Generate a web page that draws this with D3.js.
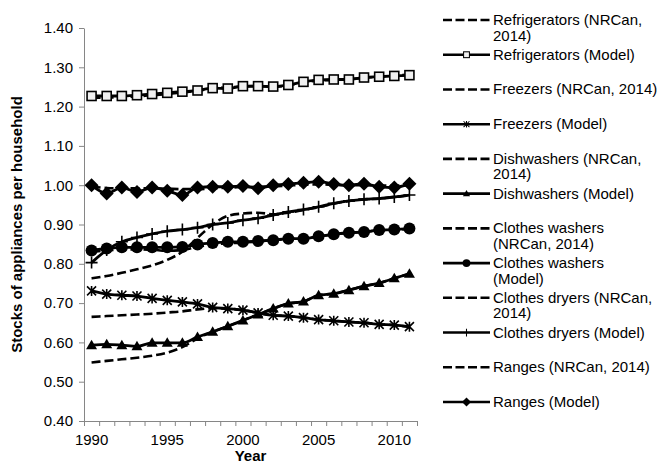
<!DOCTYPE html>
<html>
<head>
<meta charset="utf-8">
<script src="https://cdn.jsdelivr.net/npm/d3@7"></script>
<style>
  html, body { margin: 0; padding: 0; background: #fff; }
  svg { display: block; }
</style>
</head>
<body>
<svg id="chart" width="661" height="466"></svg>
<script>
// Appliance stocks per household, 1990-2011
const years = d3.range(1990, 2012);
const yTicks = [0.40, 0.50, 0.60, 0.70, 0.80, 0.90, 1.00, 1.10, 1.20, 1.30, 1.40];
const xLabelYears = [1990, 1995, 2000, 2005, 2010];

const refrigeratorsNRCan = [1.222, 1.223, 1.224, 1.226, 1.229, 1.232, 1.236, 1.240, 1.246, 1.249, 1.251, 1.252, 1.250, 1.254, 1.262, 1.266, 1.268, 1.270, 1.273, 1.276, 1.279, 1.281];
const refrigeratorsModel = [1.227, 1.227, 1.227, 1.229, 1.232, 1.235, 1.238, 1.241, 1.247, 1.246, 1.252, 1.252, 1.251, 1.255, 1.263, 1.268, 1.269, 1.269, 1.274, 1.276, 1.278, 1.280];
const freezersNRCan = [0.665, 0.667, 0.669, 0.671, 0.673, 0.676, 0.679, 0.684, 0.687, 0.686, 0.682, 0.675, 0.669, 0.667, 0.663, 0.658, 0.655, 0.652, 0.650, 0.646, 0.644, 0.639];
const freezersModel = [0.731, 0.723, 0.720, 0.718, 0.712, 0.707, 0.703, 0.698, 0.689, 0.686, 0.682, 0.675, 0.669, 0.667, 0.663, 0.658, 0.655, 0.652, 0.650, 0.646, 0.644, 0.640];
const dishwashersNRCan = [0.549, 0.553, 0.557, 0.561, 0.566, 0.574, 0.588, 0.610, 0.627, 0.641, 0.656, 0.671, 0.686, 0.699, 0.704, 0.720, 0.724, 0.733, 0.743, 0.751, 0.763, 0.774];
const dishwashersModel = [0.593, 0.595, 0.593, 0.590, 0.599, 0.599, 0.599, 0.614, 0.627, 0.641, 0.656, 0.671, 0.686, 0.699, 0.704, 0.720, 0.724, 0.733, 0.743, 0.751, 0.763, 0.775];
const washersNRCan = [0.830, 0.834, 0.836, 0.837, 0.836, 0.833, 0.835, 0.843, 0.849, 0.852, 0.854, 0.857, 0.860, 0.863, 0.865, 0.870, 0.875, 0.879, 0.881, 0.885, 0.886, 0.889];
const washersModel = [0.834, 0.839, 0.842, 0.842, 0.842, 0.842, 0.843, 0.849, 0.853, 0.856, 0.856, 0.858, 0.860, 0.864, 0.864, 0.870, 0.875, 0.879, 0.881, 0.886, 0.887, 0.890];
const dryersNRCan = [0.763, 0.769, 0.777, 0.786, 0.796, 0.810, 0.831, 0.866, 0.900, 0.922, 0.928, 0.930, 0.926, 0.930, 0.937, 0.944, 0.953, 0.960, 0.964, 0.966, 0.970, 0.975];
const dryersModel = [0.803, 0.835, 0.856, 0.867, 0.876, 0.883, 0.887, 0.892, 0.900, 0.904, 0.911, 0.916, 0.924, 0.932, 0.938, 0.945, 0.954, 0.960, 0.964, 0.966, 0.970, 0.975];
const rangesNRCan = [0.996, 0.993, 0.992, 0.992, 0.992, 0.991, 0.990, 0.990, 0.992, 0.994, 0.995, 0.996, 0.997, 0.999, 1.001, 1.002, 1.001, 1.000, 1.000, 0.999, 0.999, 1.000];
const rangesModel = [1.000, 0.979, 0.994, 0.983, 0.994, 0.986, 0.975, 0.994, 0.996, 0.996, 0.998, 0.992, 1.000, 1.003, 1.006, 1.009, 1.003, 1.000, 1.004, 0.996, 0.994, 1.004];

const seriesNames = [
  ["Refrigerators (NRCan,", "2014)"], ["Refrigerators (Model)"],
  ["Freezers (NRCan, 2014)"], ["Freezers (Model)"],
  ["Dishwashers (NRCan,", "2014)"], ["Dishwashers (Model)"],
  ["Clothes washers", "(NRCan, 2014)"], ["Clothes washers", "(Model)"],
  ["Clothes dryers (NRCan,", "2014)"], ["Clothes dryers (Model)"],
  ["Ranges (NRCan, 2014)"], ["Ranges (Model)"]
];

const series = [
  { name: seriesNames[0], values: refrigeratorsNRCan, dashed: true },
  { name: seriesNames[1], values: refrigeratorsModel, marker: "square" },
  { name: seriesNames[2], values: freezersNRCan, dashed: true },
  { name: seriesNames[3], values: freezersModel, marker: "star" },
  { name: seriesNames[4], values: dishwashersNRCan, dashed: true },
  { name: seriesNames[5], values: dishwashersModel, marker: "triangle" },
  { name: seriesNames[6], values: washersNRCan, dashed: true },
  { name: seriesNames[7], values: washersModel, marker: "circle" },
  { name: seriesNames[8], values: dryersNRCan, dashed: true },
  { name: seriesNames[9], values: dryersModel, marker: "plus" },
  { name: seriesNames[10], values: rangesNRCan, dashed: true },
  { name: seriesNames[11], values: rangesModel, marker: "diamond" }
];

const svg = d3.select("#chart");
const plot = { left: 84, right: 417, top: 28, bottom: 421 };
const axisColor = "#868686";
const fontSize = 15;
const fontFamily = "Liberation Sans, Arial, sans-serif";

const x = d3.scaleBand().domain(years).range([plot.left, plot.right]).padding(0);
const xIdx = d3.scaleLinear().domain([0, years.length]).range([plot.left, plot.right]);
const y = d3.scaleLinear().domain([0.4, 1.4]).range([plot.bottom, plot.top]);
const cx = yr => x(yr) + x.bandwidth() / 2;

// Y axis
const yAxis = svg.append("g")
  .attr("transform", `translate(${plot.left},0)`)
  .call(d3.axisLeft(y).tickValues(yTicks).tickFormat(d3.format(".2f")).tickSize(5).tickSizeOuter(0).tickPadding(6));
yAxis.select(".domain").attr("stroke", axisColor);
yAxis.selectAll(".tick line").attr("stroke", axisColor);
yAxis.selectAll("text").attr("font-size", fontSize).attr("font-family", fontFamily).attr("fill", "#000");

// X axis: tick marks at category boundaries
const xTickAxis = svg.append("g")
  .attr("transform", `translate(0,${plot.bottom})`)
  .call(d3.axisBottom(xIdx).tickValues(d3.range(0, years.length + 1)).tickFormat("").tickSize(5).tickSizeOuter(0));
xTickAxis.select(".domain").attr("stroke", axisColor);
xTickAxis.selectAll(".tick line").attr("stroke", axisColor);

// X axis labels centred in their category
const xLabelAxis = svg.append("g")
  .attr("transform", `translate(0,${plot.bottom})`)
  .call(d3.axisBottom(x).tickValues(xLabelYears).tickSize(0).tickPadding(13));
xLabelAxis.select(".domain").remove();
xLabelAxis.selectAll("text").attr("font-size", fontSize).attr("font-family", fontFamily).attr("fill", "#000");

// Axis titles
svg.append("text")
  .attr("x", (plot.left + plot.right) / 2).attr("y", 461)
  .attr("text-anchor", "middle").attr("font-size", fontSize).attr("font-weight", "bold")
  .attr("font-family", fontFamily)
  .text("Year");
svg.append("text")
  .attr("transform", `translate(22,${(plot.top + plot.bottom) / 2}) rotate(-90)`)
  .attr("text-anchor", "middle").attr("font-size", fontSize).attr("font-weight", "bold")
  .attr("font-family", fontFamily)
  .text("Stocks of appliances per household");

// Marker shapes
function drawMarker(g, type, px, py) {
  if (type === "square") {
    g.append("rect").attr("x", px - 4.5).attr("y", py - 4.5).attr("width", 9).attr("height", 9)
      .attr("fill", "#f0f0f0").attr("stroke", "#000").attr("stroke-width", 1.6);
  } else if (type === "circle") {
    g.append("circle").attr("cx", px).attr("cy", py).attr("r", 6).attr("fill", "#000");
  } else if (type === "triangle") {
    g.append("path").attr("d", `M${px},${py - 5.5}L${px + 5.5},${py + 4}L${px - 5.5},${py + 4}Z`).attr("fill", "#000");
  } else if (type === "diamond") {
    g.append("path").attr("d", `M${px},${py - 7}L${px + 7},${py}L${px},${py + 7}L${px - 7},${py}Z`).attr("fill", "#000");
  } else if (type === "plus") {
    g.append("path").attr("d", `M${px - 6},${py}H${px + 6}M${px},${py - 6}V${py + 6}`)
      .attr("stroke", "#000").attr("stroke-width", 1.6).attr("fill", "none");
  } else if (type === "star") {
    g.append("path").attr("d", `M${px - 4.5},${py - 4.5}L${px + 4.5},${py + 4.5}M${px - 4.5},${py + 4.5}L${px + 4.5},${py - 4.5}M${px},${py - 5}V${py + 5}`)
      .attr("stroke", "#000").attr("stroke-width", 1.6).attr("fill", "none");
  }
}

const line = d3.line().x((d, i) => cx(years[i])).y(d => y(d)).curve(d3.curveMonotoneX);
const seriesG = svg.append("g");
series.forEach(s => {
  const g = seriesG.append("g");
  g.append("path").datum(s.values).attr("d", line)
    .attr("fill", "none").attr("stroke", "#000")
    .attr("stroke-width", s.dashed ? 2.6 : 2.8)
    .attr("stroke-dasharray", s.dashed ? "9,4" : null);
  if (s.marker) s.values.forEach((v, i) => drawMarker(g, s.marker, cx(years[i]), y(v)));
});

// Legend
const legend = svg.append("g");
const legendY = d3.scaleLinear().domain([0, series.length - 1]).range([20, 402]);
series.forEach((s, i) => {
  const ly = legendY(i);
  const g = legend.append("g");
  g.append("line").attr("x1", 443).attr("x2", 490).attr("y1", ly).attr("y2", ly)
    .attr("stroke", "#000").attr("stroke-width", 2.6)
    .attr("stroke-dasharray", s.dashed ? "9,3.5" : null);
  if (s.marker) {
    const m = g.append("g").attr("transform", `translate(${466.5},${ly}) scale(0.65) translate(${-466.5},${-ly})`);
    drawMarker(m, s.marker, 466.5, ly);
  }
  s.name.forEach((t, j) => {
    g.append("text").attr("x", 493).attr("y", ly + 5 + j * 15.5)
      .attr("font-size", fontSize).attr("font-family", fontFamily).text(t);
  });
});
</script>
</body>
</html>
